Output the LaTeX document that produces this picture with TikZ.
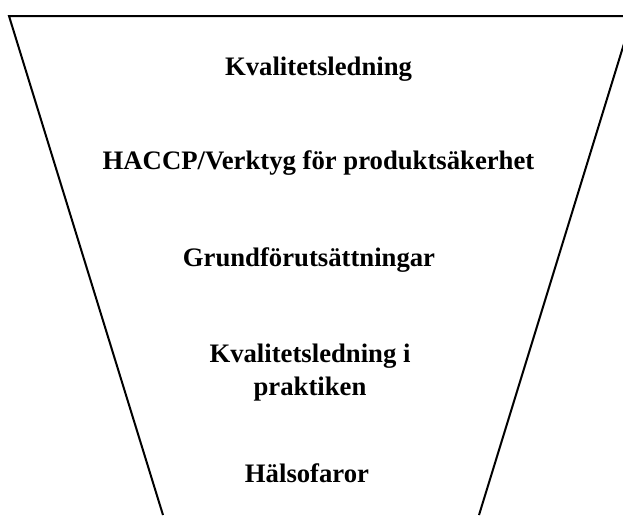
\documentclass[tikz,border=0pt]{standalone}
\usepackage{fontspec}
\setmainfont{Liberation Serif}
\begin{document}
\begin{tikzpicture}[x=1pt,y=-1pt,
  funnel/.style={line width=2pt, line join=miter},
  label/.style={font=\fontsize{26.7}{33}\selectfont\bfseries, inner sep=0pt, anchor=base, align=center}]
  \useasboundingbox (0,0) rectangle (623,515);
  \begin{scope}
    \clip (0,0) rectangle (623,515);
    % funnel outline
    \coordinate (tl) at (9,16);
    \coordinate (tr) at (632.5,16);
    \coordinate (bl) at (163,515);
    \coordinate (br) at (479,515);
    \draw[funnel] (bl) -- (tl) -- (tr) -- (br);
  \end{scope}
  % levels (a multi-line node sits on the baseline of its last line)
  \node[label] (q1) at (318.5,75) {Kvalitetsledning};
  \node[label] (q2) at (318.5,169) {HACCP/Verktyg för produktsäkerhet};
  \node[label] (q3) at (309,266) {Grundförutsättningar};
  \node[label] (q4) at (310,395) {Kvalitetsledning i\\praktiken};
  \node[label] (q5) at (307,482) {Hälsofaror};
\end{tikzpicture}
\end{document}
